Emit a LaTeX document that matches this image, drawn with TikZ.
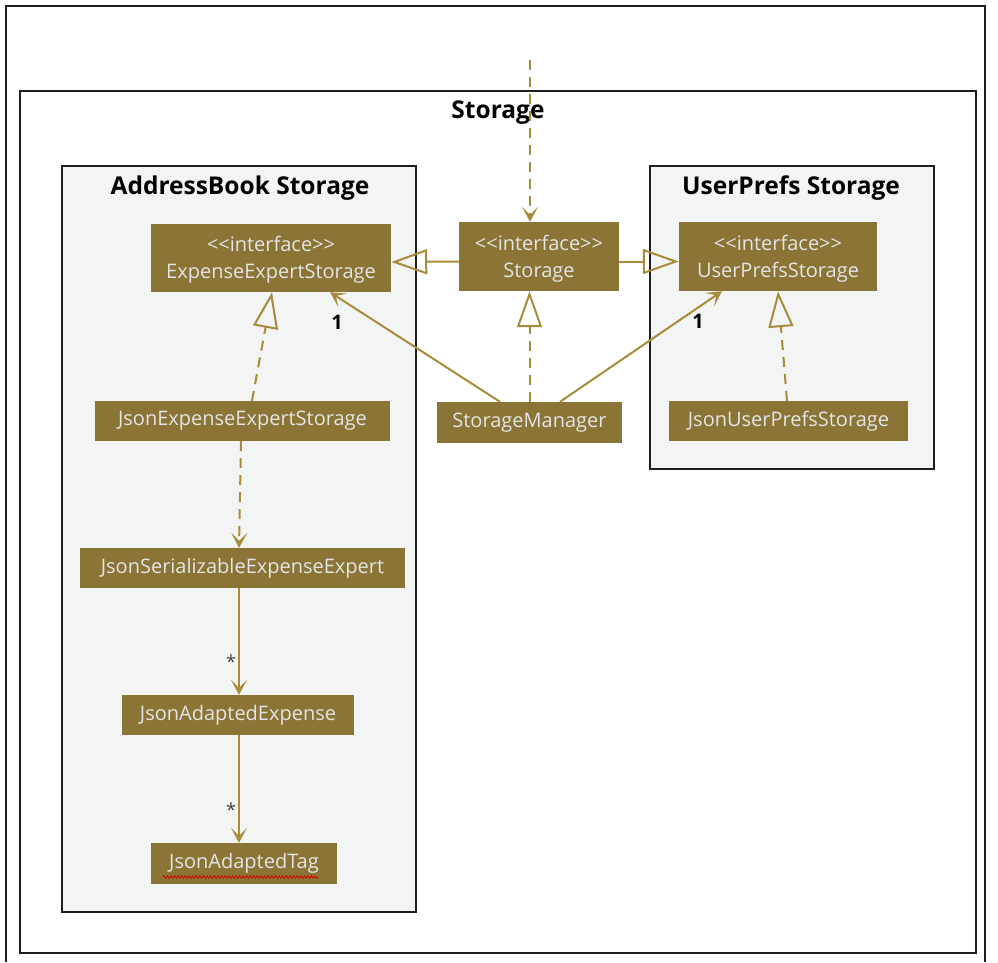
\documentclass[tikz,border=0pt]{standalone}
\usepackage{fontspec}
\setmainfont{Open Sans}
\usetikzlibrary{arrows.meta,decorations.pathmorphing}
\definecolor{boxfill}{RGB}{139,117,54}
\definecolor{boxtext}{RGB}{228,228,228}
\definecolor{wire}{RGB}{168,140,58}
\definecolor{pkgfill}{RGB}{243,244,244}
\definecolor{frameline}{RGB}{30,30,30}
\begin{document}
\begin{tikzpicture}[x=1pt,y=-1pt,
  cls/.style={fill=boxfill,text=boxtext,font=\fontsize{20}{27}\selectfont,inner sep=0pt,align=center},
  iface/.style={cls,text depth=4pt},
  pkg/.style={draw=frameline,line width=2.2pt},
  pkgtitle/.style={font=\fontsize{24.5}{28}\selectfont\bfseries,inner sep=0pt},
  wireline/.style={draw=wire,line width=2pt},
  dashes/.style={dash pattern=on 10pt off 7pt},
  opentip/.style={-{Stealth[length=15pt,width=16pt,inset=8pt]}},
  realize/.style={wireline,-{Triangle[open,length=36pt,width=25pt]}},
  mult/.style={font=\fontsize{20}{22}\selectfont\bfseries,inner sep=0pt}
]
\useasboundingbox (0,0) rectangle (998,962);

% page frame
\draw[frameline,line width=2pt] (6,962) -- (6,6) -- (985,6) -- (985,962);

% packages
\draw[pkg,fill=white] (20,91) rectangle (976,953);
\node[pkgtitle] (tstorage) at (498,113) {Storage};
\draw[pkg,fill=pkgfill] (62,166) rectangle (416,912);
\node[pkgtitle] (tab) at (240,188) {AddressBook Storage};
\draw[pkg,fill=pkgfill] (650,166) rectangle (934,469);
\node[pkgtitle] (tup) at (791,188) {UserPrefs Storage};

% classes
\node[cls,minimum width=240pt,minimum height=68pt] (ees) at (271,258) {};
\node[cls,anchor=center] (eest) at (271,260) {<{}<interface>{}>\\ExpenseExpertStorage};
\node[cls,minimum width=160pt,minimum height=69pt] (st) at (539,256.5) {};
\node[cls,anchor=center] (stt) at (539,259) {<{}<interface>{}>\\Storage};
\node[cls,minimum width=198pt,minimum height=69pt] (ups) at (778,256.5) {};
\node[cls,anchor=center] (upst) at (778,259) {<{}<interface>{}>\\UserPrefsStorage};
\node[cls,minimum width=295pt,minimum height=40pt] (jees) at (242.5,421) {JsonExpenseExpertStorage};
\node[cls,minimum width=185pt,minimum height=41pt] (sm) at (529.5,422.5) {StorageManager};
\node[cls,minimum width=239pt,minimum height=40pt] (jups) at (788.5,421) {JsonUserPrefsStorage};
\node[cls,minimum width=325pt,minimum height=40pt] (jsee) at (242.5,568) {JsonSerializableExpenseExpert};
\node[cls,minimum width=232pt,minimum height=40pt] (jae) at (238,715) {JsonAdaptedExpense};
\node[cls,minimum width=186pt,minimum height=41pt] (jat) at (244,863.5) {JsonAdaptedTag};

% spell-check underline
\coordinate (sqa) at (163,877);
\coordinate (sqb) at (318,877);
\draw[red!85!black,line width=0.8pt,decorate,decoration={zigzag,segment length=3.6pt,amplitude=1.3pt}] (sqa) -- (sqb);

% incoming dependency
\coordinate (top) at (530,60);
\draw[wireline,dashes,opentip] (top) -- (top |- st.north);

% generalisations of Storage
\draw[realize] ([yshift=-5pt]st.west) -- ([yshift=-4pt]ees.east);
\draw[realize] ([yshift=-5pt]st.east) -- ([yshift=-5pt]ups.west);

% implementations
\draw[realize,dashes] (sm.north) -- (sm.north |- st.south);
\draw[realize,dashes] ([xshift=9.5pt]jees.north) -- ([xshift=1pt]ees.south);
\draw[realize,dashes] ([xshift=-1.5pt]jups.north) -- (ups.south);

% associations from StorageManager
\draw[wireline,opentip] ([xshift=-29.5pt]sm.north) -- ([xshift=59pt]ees.south);
\node[mult] (m1) at (337,322) {1};
\draw[wireline,opentip] ([xshift=30.5pt]sm.north) -- ([xshift=-56pt]ups.south);
\node[mult] (m2) at (698,321) {1};

% json chain
\draw[wireline,dashes,opentip] ([xshift=-1.5pt]jees.south) -- ([xshift=-3.5pt]jsee.north);
\draw[wireline,opentip] ([xshift=-3.5pt]jsee.south) -- ([xshift=1pt]jae.north);
\node[mult,font=\fontsize{18}{20}\selectfont,text=black!75] (s1) at (231,662) {*};
\draw[wireline,opentip] ([xshift=1pt]jae.south) -- ([xshift=-5pt]jat.north);
\node[mult,font=\fontsize{18}{20}\selectfont,text=black!75] (s2) at (231,810) {*};
\end{tikzpicture}
\end{document}
